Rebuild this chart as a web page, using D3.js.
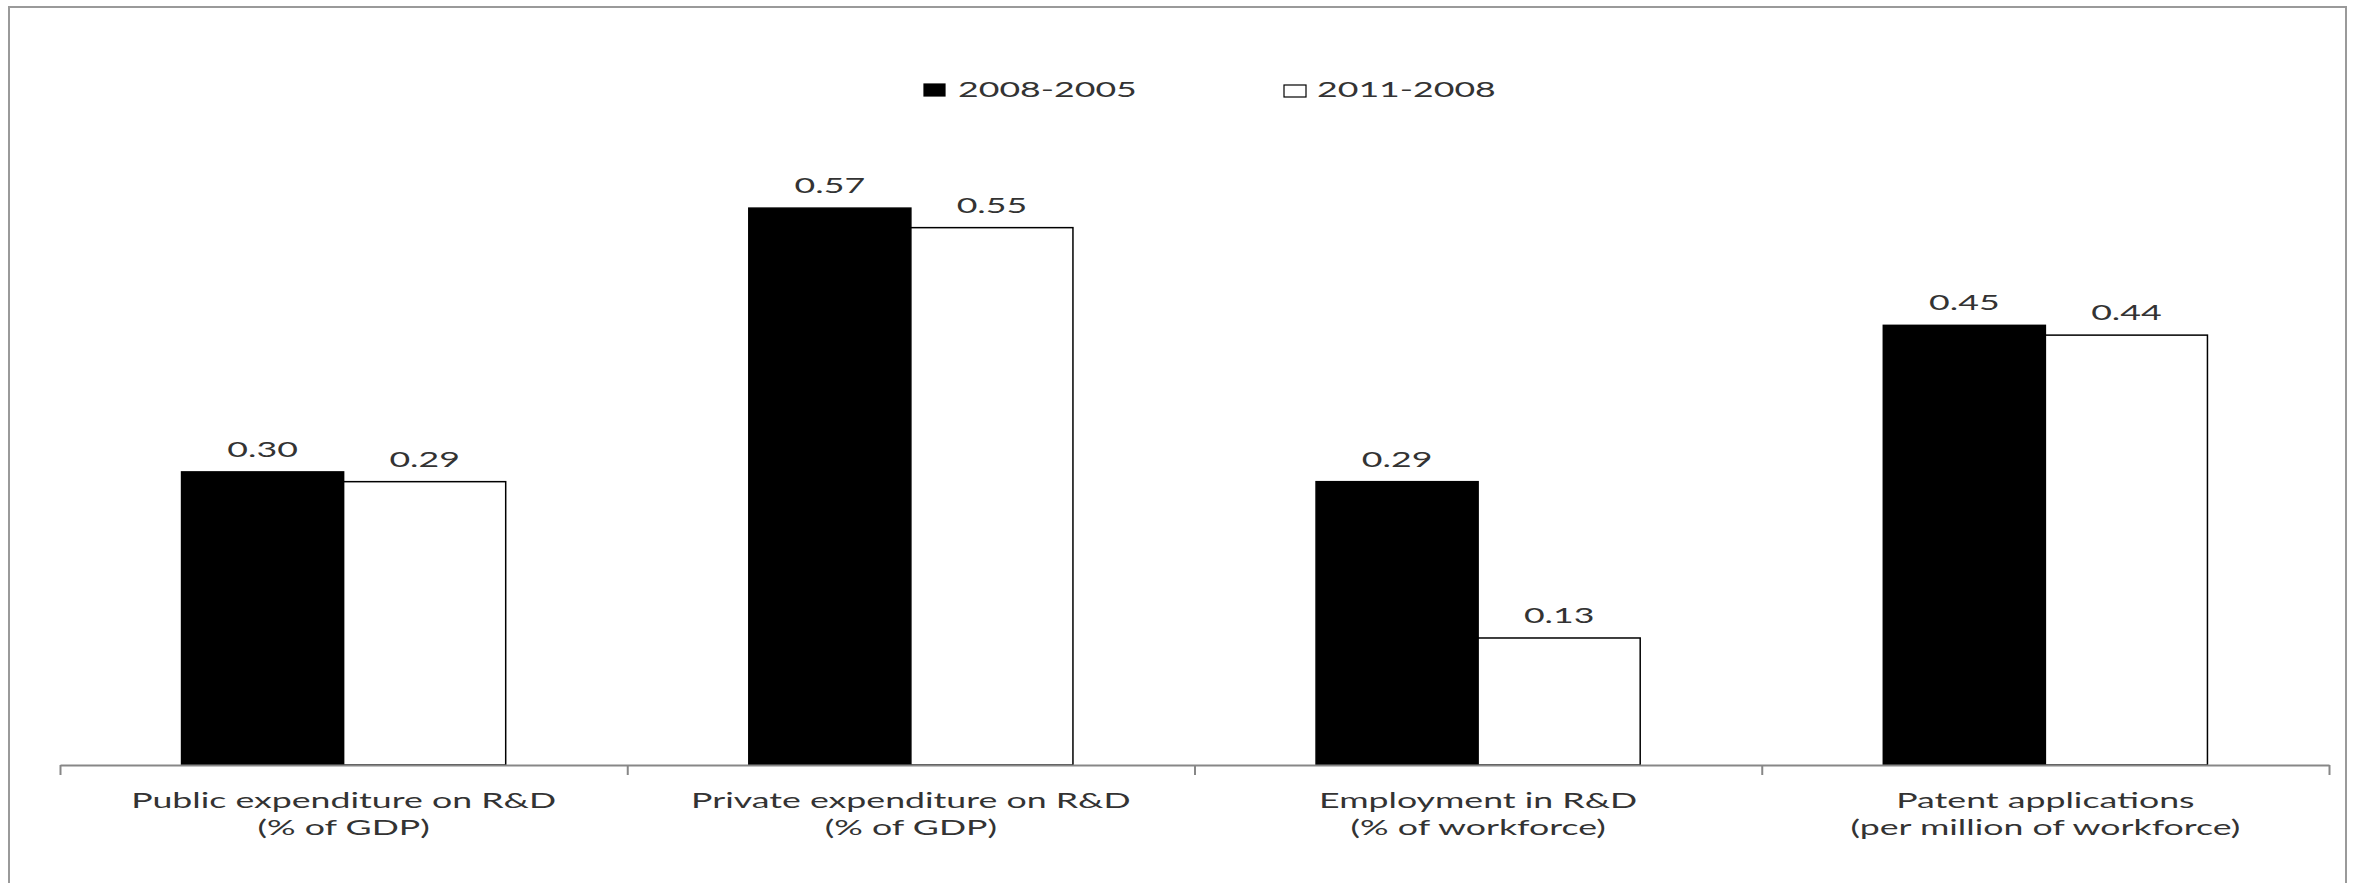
<!DOCTYPE html>
<html>
<head>
<meta charset="utf-8">
<script src="https://cdn.jsdelivr.net/npm/d3@7"></script>
<style>
  html, body { margin: 0; padding: 0; background: #ffffff; }
  svg { display: block; }
  text { font-family: Lato, "Open Sans", sans-serif; fill: #333333; }
</style>
</head>
<body>
<svg id="chart" width="2356" height="883"></svg>
<script>
// ---- data ----
const categories = [
  "Public expenditure on R&D",
  "Private expenditure on R&D",
  "Employment in R&D",
  "Patent applications"
];
const subLabels = [
  "(% of GDP)",
  "(% of GDP)",
  "(% of workforce)",
  "(per million of workforce)"
];
const seriesNames = ["2008-2005", "2011-2008"];
const values2008_2005 = [0.30, 0.57, 0.29, 0.45];
const values2011_2008 = [0.29, 0.55, 0.13, 0.44];
const valueLabels2008_2005 = ["0.30", "0.57", "0.29", "0.45"];
const valueLabels2011_2008 = ["0.29", "0.55", "0.13", "0.44"];

// ---- layout ----
const W = 2356, H = 883;
const SX = 1.7; // horizontal stretch of the original rendering
const plot = { left: 60, right: 2329, base: 765 };
const svg = d3.select("#chart");

svg.append("rect")
  .attr("x", 9).attr("y", 7)
  .attr("width", 2337).attr("height", 900)
  .attr("fill", "#ffffff")
  .attr("stroke", "#9a9a9a").attr("stroke-width", 2);

const y = d3.scaleLinear().domain([0, 0.7]).range([plot.base, plot.base - 0.7 * 977]);
const x0 = d3.scaleBand().domain(categories).range([plot.left, plot.right]).padding(0);
const x1 = d3.scaleBand().domain(seriesNames).range([0, x0.bandwidth()]).paddingInner(0).paddingOuter(0.75);

const series = [
  { name: seriesNames[0], values: values2008_2005, labels: valueLabels2008_2005, fill: "#000000", stroke: "#000000" },
  { name: seriesNames[1], values: values2011_2008, labels: valueLabels2011_2008, fill: "#ffffff", stroke: "#000000" }
];

function stretchedText(g, xPos, yPos, str, size, anchor) {
  return g.append("text")
    .attr("transform", `translate(${xPos},${yPos}) scale(${SX},1)`)
    .attr("text-anchor", anchor || "middle")
    .attr("font-size", size)
    .text(str);
}

// bars
const barsG = svg.append("g");
series.forEach(s => {
  categories.forEach((c, i) => {
    const bx = x0(c) + x1(s.name);
    barsG.append("rect")
      .attr("x", bx)
      .attr("y", y(s.values[i]))
      .attr("width", x1.bandwidth())
      .attr("height", y(0) - y(s.values[i]))
      .attr("fill", s.fill)
      .attr("stroke", s.stroke)
      .attr("stroke-width", 1.5);
  });
});

// value labels
const lblG = svg.append("g");
series.forEach(s => {
  categories.forEach((c, i) => {
    const cx = x0(c) + x1(s.name) + x1.bandwidth() / 2;
    stretchedText(lblG, cx, y(s.values[i]) - 15, s.labels[i], 21);
  });
});

// x axis: ticks at category boundaries
const xIdx = d3.scaleLinear().domain([0, categories.length]).range([plot.left, plot.right]);
const axis = d3.axisBottom(xIdx)
  .tickValues(d3.range(categories.length + 1))
  .tickSize(10)
  .tickSizeOuter(0)
  .tickFormat(() => "");
const axG = svg.append("g")
  .attr("transform", `translate(0,${plot.base})`)
  .call(axis);
axG.select(".domain").attr("stroke", "#878787").attr("stroke-width", 2);
axG.selectAll(".tick line").attr("stroke", "#878787").attr("stroke-width", 2);

// category labels
const catG = svg.append("g");
categories.forEach((c, i) => {
  const cx = x0(c) + x0.bandwidth() / 2;
  stretchedText(catG, cx, 808, c, 21);
  stretchedText(catG, cx, 835, subLabels[i], 21);
});

// legend
const legend = [
  { name: seriesNames[0], fill: "#000000", sx: 924, sy: 84, w: 21, h: 12, tx: 958 },
  { name: seriesNames[1], fill: "#ffffff", sx: 1284, sy: 85, w: 22, h: 12, tx: 1317 }
];
const legG = svg.append("g");
legend.forEach(l => {
  legG.append("rect")
    .attr("x", l.sx).attr("y", l.sy)
    .attr("width", l.w).attr("height", l.h)
    .attr("fill", l.fill)
    .attr("stroke", "#000000").attr("stroke-width", 1.2);
  stretchedText(legG, l.tx, 97, l.name, 21, "start");
});
</script>
</body>
</html>
